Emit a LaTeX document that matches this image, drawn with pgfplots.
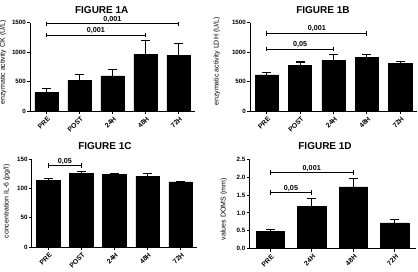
\documentclass[border=0pt]{standalone}
\usepackage{fontspec}
\setmainfont{Liberation Sans}
\usepackage{pgfplots}
\pgfplotsset{compat=1.18}

\tikzset{
  siglabel/.style={font=\bfseries\fontsize{7.2}{8}\selectfont, above, inner sep=1pt},
  paneltitle/.style={font=\bfseries\fontsize{10}{11}\selectfont, inner sep=0pt},
  panelylabel/.style={font=\fontsize{7}{8}\selectfont, rotate=90, inner sep=0pt},
}

% Prism-style bar panels: left/bottom axis lines, outward ticks, mean + SD
\pgfplotsset{
  prism/.style={
    scale only axis,
    axis lines*=left,
    axis line style={line width=0.9pt},
    tick style={line width=0.9pt, black},
    tick align=outside,
    major tick length=3pt,
    ymin=0,
    xmin=-0.5,
    xtick=data,
    enlarge x limits=false,
    clip=false,
    /pgf/number format/assume math mode=true,
    /pgf/number format/1000 sep={},
    yticklabel style={font=\bfseries\fontsize{6.2}{7}\selectfont, inner sep=1pt},
    xticklabel style={font=\bfseries\fontsize{6.8}{7}\selectfont, rotate=45, anchor=north east, inner sep=1pt, yshift=-1pt},
  },
  sdbar/.style={
    ybar, bar width=#1, bar shift=0pt,
    fill=black, draw=black, line width=0.6pt,
    error bars/.cd, y dir=plus, y explicit,
    error bar style={line width=1.1pt, black},
    error mark options={rotate=90, mark size=4.5pt, line width=1.1pt, black},
  },
  sdbar/.default=0.7,
  sig/.style={sharp plot, black, line width=1pt, mark=|, mark size=2.4pt, mark options={line width=1pt}},
}

\begin{document}
\begin{tikzpicture}

% ---------- FIGURE 1A: CK ----------
\begin{axis}[prism,
  at={(30pt,160pt)}, anchor=south west, width=165pt, height=88.3pt,
  xmax=4.5, ymax=1500, ytick={0,500,1000,1500},
  xticklabels={PRE,POST,24H,48H,72H},
]
\addplot[sdbar] coordinates {
  (0,311) +- (0,68)
  (1,515) +- (0,108)
  (2,595) +- (0,113)
  (3,968) +- (0,226)
  (4,951) +- (0,192)
};
\addplot[sig] coordinates {(0,1478) (4,1478)};
\addplot[sig] coordinates {(0,1291) (3,1291)};
\node[siglabel] at (axis cs:2,1478) {0,001};
\node[siglabel] at (axis cs:1.5,1291) {0,001};
\node[paneltitle] at (rel axis cs:0.435,1) [yshift=12.3pt] {FIGURE 1A};
\node[panelylabel] at (rel axis cs:-0.164,0.55) {enzymatic activity CK (U/L)};
\end{axis}

% ---------- FIGURE 1B: LDH ----------
\begin{axis}[prism,
  at={(250pt,160pt)}, anchor=south west, width=167pt, height=88.3pt,
  xmax=4.5, ymax=1500, ytick={0,500,1000,1500},
  xticklabels={PRE,POST,24H,48H,72H},
]
\addplot[sdbar] coordinates {
  (0,612) +- (0,38)
  (1,770) +- (0,62)
  (2,866) +- (0,100)
  (3,905) +- (0,55)
  (4,805) +- (0,42)
};
\addplot[sig] coordinates {(0,1320) (3,1320)};
\addplot[sig] coordinates {(0,1053) (2,1053)};
\node[siglabel] at (axis cs:1.5,1320) {0,001};
\node[siglabel] at (axis cs:1,1053) {0,05};
\node[paneltitle] at (rel axis cs:0.437,1) [yshift=12.5pt] {FIGURE 1B};
\node[panelylabel] at (rel axis cs:-0.198,0.56) {enzymatic activity LDH (U/L)};
\end{axis}

% ---------- FIGURE 1C: IL-6 ----------
\begin{axis}[prism,
  at={(31.7pt,24pt)}, anchor=south west, width=165.3pt, height=87.7pt,
  xmax=4.5, ymax=150, ytick={0,50,100,150},
  xticklabels={PRE,POST,24H,48H,72H},
]
\addplot[sdbar] coordinates {
  (0,114.5) +- (0,2.8)
  (1,126.5) +- (0,3.2)
  (2,124.5) +- (0,1.0)
  (3,120.2) +- (0,5.0)
  (4,111.2) +- (0,1.0)
};
\addplot[sig] coordinates {(0,139.7) (1,139.7)};
\node[siglabel] at (axis cs:0.5,139.7) {0,05};
\node[paneltitle] at (rel axis cs:0.443,1) [yshift=13pt] {FIGURE 1C};
\node[panelylabel] at (rel axis cs:-0.15,0.52) {concentration IL-6 (pg/l)};
\end{axis}

% ---------- FIGURE 1D: DOMS ----------
\begin{axis}[prism,
  at={(249.5pt,22.3pt)}, anchor=south west, width=166pt, height=89.4pt,
  xmax=3.5, ymax=2.5, ytick={0,0.5,1,1.5,2,2.5},
  yticklabel style={/pgf/number format/.cd, fixed, fixed zerofill, precision=1},
  xticklabels={PRE,24H,48H,72H},
]
\addplot[sdbar=0.68] coordinates {
  (0,0.476) +- (0,0.05)
  (1,1.18) +- (0,0.23)
  (2,1.73) +- (0,0.24)
  (3,0.72) +- (0,0.09)
};
\addplot[sig] coordinates {(0,2.13) (2,2.13)};
\addplot[sig] coordinates {(0,1.57) (1,1.57)};
\node[siglabel] at (axis cs:1,2.13) {0,001};
\node[siglabel] at (axis cs:0.5,1.57) {0,05};
\node[paneltitle] at (rel axis cs:0.455,1) [yshift=13pt] {FIGURE 1D};
\node[panelylabel] at (rel axis cs:-0.154,0.44) {values DOMS (mm)};
\end{axis}

\pgfresetboundingbox
\useasboundingbox (0pt,0pt) rectangle (418pt,271pt);
\end{tikzpicture}
\end{document}
